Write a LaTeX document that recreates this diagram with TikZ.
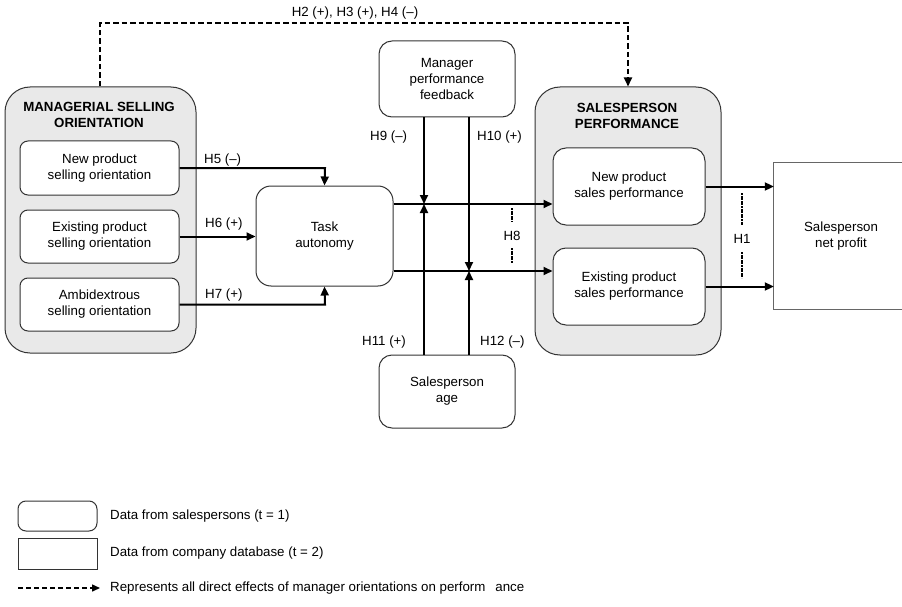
\documentclass[tikz,border=0pt]{standalone}
\usepackage{fontspec}
\setmainfont{Liberation Sans}
\usetikzlibrary{arrows.meta}
\definecolor{contfill}{HTML}{E9E9E9}
\definecolor{bord}{HTML}{333333}
\tikzset{
  every node/.style={font=\fontsize{13.3}{16}\selectfont, align=center, inner sep=0pt},
  cont/.style={draw=bord, line width=1pt, fill=contfill, rounded corners=25pt},
  ibox/.style={draw=bord, line width=1pt, fill=white, rounded corners=8pt},
  mbox/.style={draw=bord, line width=1pt, fill=white, rounded corners=13pt},
  lbl/.style={anchor=west},
  arr/.style={line width=2pt, -{Triangle[length=9pt,width=8pt]}},
  dsh/.style={line width=1.8pt, dash pattern=on 5.5pt off 3pt},
  fine/.style={line width=1.6pt, dash pattern=on 2pt off 0.6pt},
  title/.style={font=\fontsize{13.3}{16}\selectfont\bfseries},
}
\begin{document}
\begin{tikzpicture}[x=1pt,y=-1pt]
\useasboundingbox (0,0) rectangle (902,607);
% containers
\node[cont, minimum width=191pt, minimum height=266pt] (mso) at (100.5,220) {};
\node[title] (msot) at (99,115) {MANAGERIAL SELLING\\ORIENTATION};
\node[cont, minimum width=186pt, minimum height=268pt] (sp) at (628,221) {};
\node[title] (spt) at (627,116) {SALESPERSON\\PERFORMANCE};
% inner boxes
\node[ibox, minimum width=159pt, minimum height=54pt] (np) at (99.5,168) {New product\\selling orientation};
\node[ibox, minimum width=159pt, minimum height=53pt] (ep) at (99.5,236.5) {Existing product\\selling orientation};
\node[ibox, minimum width=159pt, minimum height=53pt] (am) at (99.5,304.5) {Ambidextrous\\selling orientation};
\node[mbox, rounded corners=15pt, minimum width=137pt, minimum height=100pt] (ta) at (324.5,236) {Task\\autonomy};
\node[mbox, minimum width=136pt, minimum height=76pt] (mf) at (447,79) {Manager\\performance\\feedback};
\node[mbox, minimum width=136pt, minimum height=73pt] (age) at (447,391.5) {Salesperson\\age};
\node[mbox, minimum width=152pt, minimum height=77pt] (nsp) at (629,186.5) {New product\\sales performance};
\node[mbox, minimum width=152pt, minimum height=77pt] (esp) at (629,286.5) {Existing product\\sales performance};
\node[minimum width=134pt, minimum height=146pt] (npr) at (841,236) {Salesperson\\net profit};
\draw[draw=black!60, line width=1.1pt] (npr.north east) -- (npr.north west) -- (npr.south west) -- (npr.south east);
% coordinates
\coordinate (h5c) at (325,168);
\coordinate (h7c) at (325,304.5);
\coordinate (m1) at (424,204);
\coordinate (m2) at (469,271);
\coordinate (d1) at (100,23);
\coordinate (d2) at (628,23);
% dashed top
\draw[dsh, -{Triangle[length=9pt,width=8pt]}] (mso.north -| d1) -- (d1) -- (d2) -- (sp.north);
\node (h234) at (355,13) {H2 (+), H3 (+), H4 (--)};
% H5 H6 H7
\draw[arr] (np.east) -- (h5c) -- (ta.north);
\draw[arr] (ep.east) -- (ep.east -| ta.west);
\draw[arr] (am.east |- h7c) -- (h7c) -- (ta.south);
\node[lbl] (h5) at (204,160) {H5 (--)};
\node[lbl] (h6) at (205,224) {H6 (+)};
\node[lbl] (h7) at (205,295) {H7 (+)};
% task to performance
\draw[arr] (ta.east |- m1) -- (m1 -| nsp.west);
\draw[arr] (ta.east |- m2) -- (m2 -| esp.west);
% moderators
\draw[arr] (mf.south -| m1) -- (m1);
\draw[arr] (age.north -| m1) -- (m1);
\draw[arr] (mf.south -| m2) -- (m2);
\draw[arr] (age.north -| m2) -- (m2);
\node[lbl] (h9) at (370,137) {H9 (--)};
\node[lbl] (h10) at (477,137) {H10 (+)};
\node[lbl] (h11) at (362,342) {H11 (+)};
\node[lbl] (h12) at (480,342) {H12 (--)};
% H8
\coordinate (h8a) at (512,208);
\coordinate (h8b) at (512,222);
\coordinate (h8c) at (512,248);
\coordinate (h8d) at (512,263);
\draw[fine] (h8a) -- (h8b);
\draw[fine] (h8c) -- (h8d);
\node (h8) at (512,235.5) {H8};
% outputs
\draw[arr] (nsp.east) -- (nsp.east -| npr.west);
\draw[arr] (esp.east) -- (esp.east -| npr.west);
% H1
\coordinate (h1a) at (742,193);
\coordinate (h1b) at (742,225);
\coordinate (h1c) at (742,252);
\coordinate (h1d) at (742,278);
\draw[fine] (h1a) -- (h1b);
\draw[fine] (h1c) -- (h1d);
\node (h1) at (742,238.5) {H1};
% legend
\node[ibox, minimum width=79pt, minimum height=30pt] (lg1) at (57.5,516) {};
\node[draw=bord, line width=1pt, minimum width=79pt, minimum height=31pt] (lg2) at (57.5,553.5) {};
\node[lbl] (lt1) at (110,516) {Data from salespersons (t = 1)};
\node[lbl] (lt2) at (110,553.5) {Data from company database (t = 2)};
\coordinate (la) at (18,588);
\coordinate (lb) at (100,588);
\draw[line width=1.5pt, dash pattern=on 5pt off 3pt, -{Triangle[length=8pt,width=7pt]}] (la) -- (lb);
\node[lbl] (lt3) at (110,588) {Represents all direct effects of manager orientations on perform\hspace{10pt}ance};
\end{tikzpicture}
\end{document}
